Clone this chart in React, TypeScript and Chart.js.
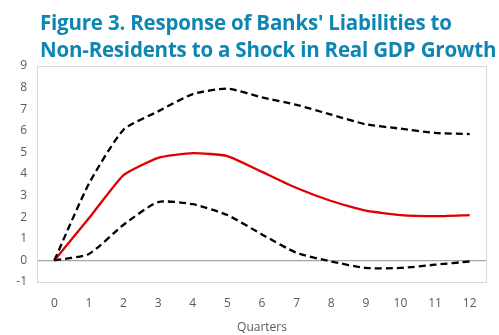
import React, { useEffect, useRef } from "react";
import { Chart, registerables } from "chart.js";

Chart.register(...registerables);

const quarters = ["0", "1", "2", "3", "4", "5", "6", "7", "8", "9", "10", "11", "12"];
const upperBand = [0, 3.55, 6.05, 6.9, 7.7, 7.95, 7.55, 7.2, 6.75, 6.3, 6.1, 5.9, 5.85];
const response = [0, 1.95, 3.95, 4.75, 4.97, 4.83, 4.1, 3.35, 2.75, 2.3, 2.1, 2.05, 2.1];
const lowerBand = [0, 0.3, 1.65, 2.7, 2.6, 2.1, 1.2, 0.35, -0.05, -0.35, -0.35, -0.2, -0.05];
const titleLines = ["Figure 3. Response of Banks' Liabilities to", "Non-Residents to a Shock in Real GDP Growth"];

const frame = {
  id: "frame",
  afterDraw(chart: any) {
    const { ctx, chartArea } = chart;
    ctx.save();
    ctx.strokeStyle = "#d9d9d9";
    ctx.lineWidth = 1;
    ctx.strokeRect(chartArea.left + 0.5, chartArea.top + 0.5, chartArea.right - chartArea.left - 1, chartArea.bottom - chartArea.top);
    ctx.restore();
  },
};

export default function App() {
  const ref = useRef<HTMLCanvasElement>(null);
  useEffect(() => {
    const chart = new Chart(ref.current!, {
      type: "line",
      data: {
        labels: quarters,
        datasets: [
          { data: upperBand, borderColor: "#000", borderWidth: 2.3, borderDash: [7, 4], pointRadius: 0, tension: 0.2, fill: false },
          { data: response, borderColor: "#e00000", borderWidth: 2.3, pointRadius: 0, tension: 0.15, fill: false },
          { data: lowerBand, borderColor: "#000", borderWidth: 2.3, borderDash: [7, 4], pointRadius: 0, tension: 0.2, fill: false },
        ],
      },
      options: {
        animation: false,
        responsive: false,
        layout: { padding: { top: 66, right: 12, left: 0, bottom: 0 } },
        plugins: { legend: { display: false }, tooltip: { enabled: false } },
        scales: {
          x: {
            offset: true,
            grid: { display: false },
            border: { display: false },
            ticks: { color: "#595959", font: { family: "'Open Sans'", size: 12 }, padding: 6, maxRotation: 0 },
            title: { display: true, text: "Quarters", color: "#595959", font: { family: "'Open Sans'", size: 12 }, padding: { top: 0, bottom: 0 } },
            afterFit: (s: any) => { s.height = 53; },
          },
          y: {
            min: -1,
            max: 9,
            ticks: { stepSize: 1, color: "#595959", font: { family: "'Open Sans'", size: 12 }, padding: 10 },
            grid: {
              drawTicks: false,
              color: (c: any) => (c.tick && c.tick.value === 0 ? "#a6a6a6" : "rgba(0,0,0,0)"),
              lineWidth: 1.2,
            },
            border: { display: false },
            afterFit: (s: any) => { s.width = 37; },
          },
        },
      },
      plugins: [frame],
    });
    return () => chart.destroy();
  }, []);
  return (
    <div style={{ position: "fixed", left: 0, top: 0, width: 499, height: 335, background: "#fff" }}>
      <canvas ref={ref} width={499} height={335} style={{ position: "absolute", left: 0, top: 0 }} />
      <div
        style={{
          position: "absolute",
          left: 40,
          top: 9,
          fontFamily: "'Open Sans', sans-serif",
          fontWeight: 700,
          fontSize: 20.5,
          lineHeight: "27px",
          color: "#0e86b4",
          whiteSpace: "nowrap",
          letterSpacing: "-0.2px",
        }}
      >
        {titleLines.map((t, i) => (
          <div key={i}>{t}</div>
        ))}
      </div>
    </div>
  );
}
